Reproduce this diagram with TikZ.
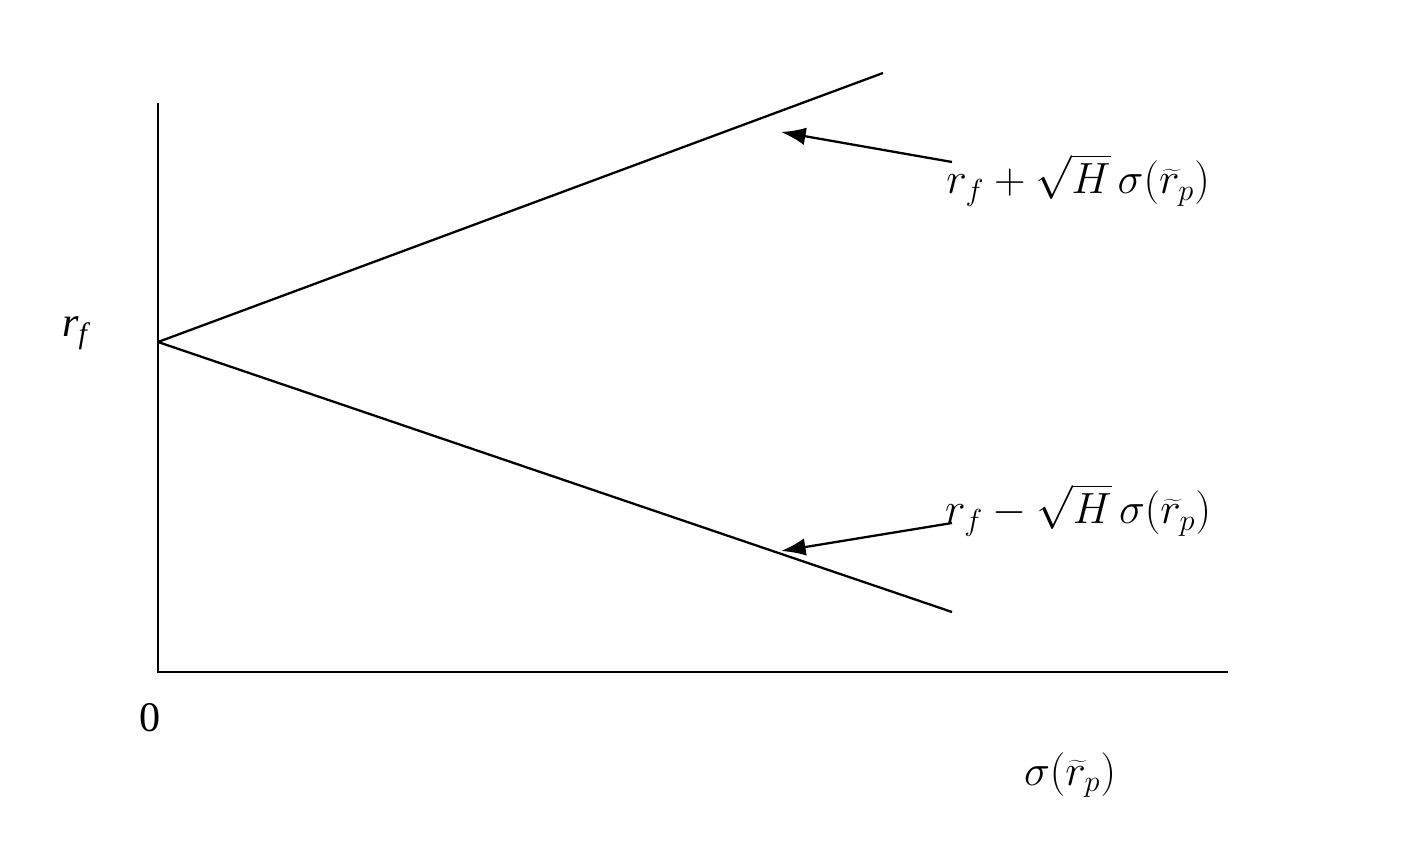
\documentclass[tikz,border=0pt]{standalone}
\usepackage{fontspec}
\setmainfont{Liberation Serif}
\usetikzlibrary{arrows.meta}
\begin{document}
\begin{tikzpicture}[x=0.02cm,y=-0.02cm,line width=1.3pt,
  lbl/.style={font=\fontsize{24}{28}\selectfont},
  arr/.style={-{Latex[length=14pt,width=10pt]}}]
\useasboundingbox (0,0) rectangle (1408,858);
\coordinate (o) at (158,672);
\coordinate (ytop) at (158,103);
\coordinate (xend) at (1228,672);
\coordinate (rf) at (158,342);
\coordinate (up) at (883,73);
\coordinate (lo) at (952,612);
\draw (ytop) -- (o) -- (xend);
\draw (rf) -- (up);
\draw (rf) -- (lo);
\node[lbl] (lrf) at (75,333) {$\mathit{r_f}$};
\node[lbl] (zero) at (150,718) {0};
\node[lbl] (xl) at (1070,775) {$\sigma(\widetilde{r}_p)$};
\node[lbl] (lu) at (1078,180) {$r_f+\sqrt{H}\,\sigma(\widetilde{r}_p)$};
\node[lbl] (ll) at (1078,510) {$r_f-\sqrt{H}\,\sigma(\widetilde{r}_p)$};
\coordinate (au) at (952,162);
\coordinate (al) at (952,523);
\coordinate (tu) at (781,132);
\coordinate (tl) at (781,551);
\draw[arr] (au) -- (tu);
\draw[arr] (al) -- (tl);
\end{tikzpicture}
\end{document}
